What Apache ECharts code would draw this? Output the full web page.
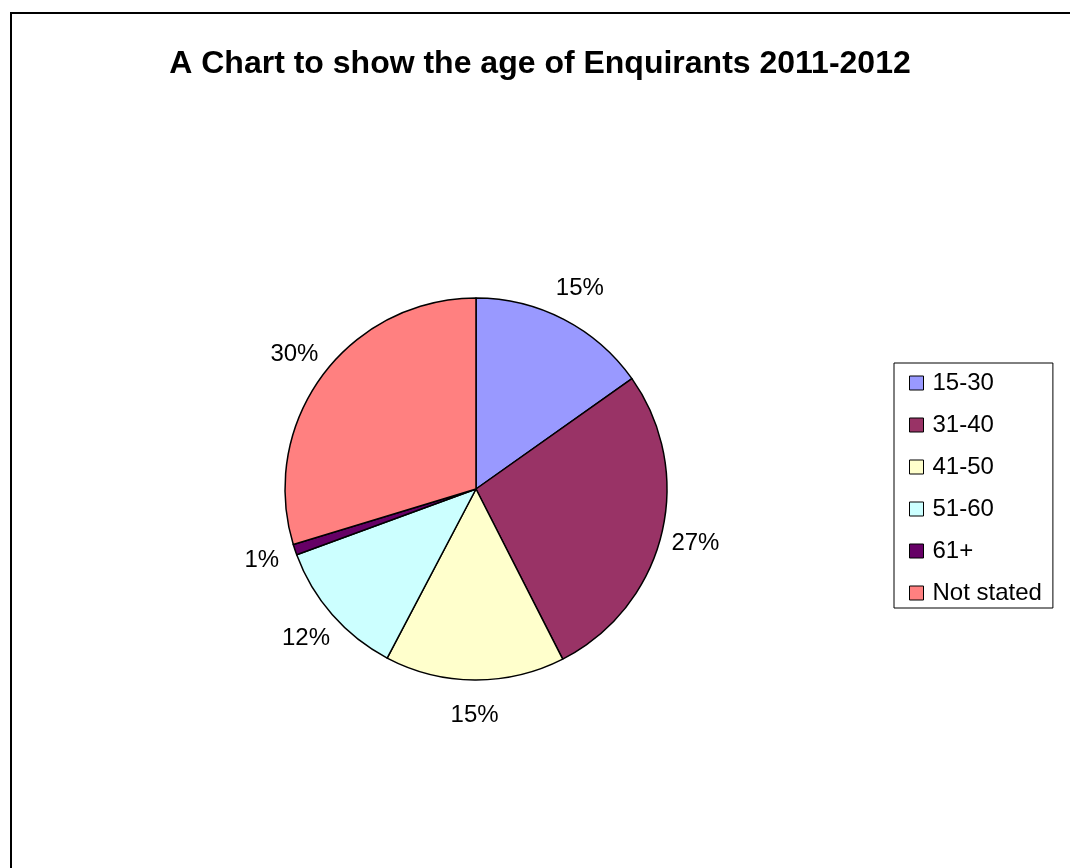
<!DOCTYPE html>
<html><head><meta charset="utf-8">
<script src="https://cdn.jsdelivr.net/npm/echarts@6/dist/echarts.min.js"></script>
<style>html,body{margin:0;padding:0;background:#fff}#c{width:1070px;height:868px}</style>
</head><body><div id="c"></div>
<script>
var categories = ['15-30','31-40','41-50','51-60','61+','Not stated'];
var values = [15.2, 27.3, 15.2, 11.7, 0.9, 29.7];
var colors = ['#9999FF','#993366','#FFFFCC','#CCFFFF','#660066','#FF8080'];
var titleText = 'A Chart to show the age of Enquirants 2011-2012';

var pieCenter = [476, 489];
var pieRadius = 191;
var labelDist = 226;
var total = values.reduce(function(a, b){ return a + b; }, 0);

var chart = echarts.init(document.getElementById('c'));
chart.setOption({
  animation: false,
  backgroundColor: '#fff',
  graphic: [{
    type: 'rect', shape: {x: 11, y: 13, width: 1100, height: 900},
    style: {fill: 'none', stroke: '#000', lineWidth: 2}, silent: true
  }],
  title: {
    text: titleText, left: 535, top: 43, textAlign: 'center',
    textStyle: {fontFamily: 'Liberation Sans, Arial', fontWeight: 'bold', fontSize: 32, color: '#000'}
  },
  legend: {
    orient: 'vertical', left: 894, top: 363,
    padding: [8, 11, 3, 15],
    borderColor: '#000', borderWidth: 1,
    itemWidth: 14, itemHeight: 14, itemGap: 18,
    icon: 'rect',
    itemStyle: {borderColor: '#000', borderWidth: 1},
    textStyle: {fontFamily: 'Liberation Sans, Arial', fontSize: 24, color: '#000', padding: [0,0,0,4]},
    data: categories
  },
  series: [{
    type: 'pie', center: pieCenter, radius: pieRadius,
    startAngle: 90, clockwise: true,
    percentPrecision: 0,
    color: colors,
    itemStyle: {borderColor: '#000', borderWidth: 1.5},
    emphasis: {disabled: true},
    label: {show: true, position: 'outside', formatter: '{d}%',
      fontFamily: 'Liberation Sans, Arial', fontSize: 24, color: '#000'},
    labelLine: {show: false, length: 20, length2: 0},
    labelLayout: function (p) {
      var cum = 0;
      for (var i = 0; i < p.dataIndex; i++) cum += values[i];
      var mid = (cum + values[p.dataIndex] / 2) / total * 2 * Math.PI;
      return {
        x: pieCenter[0] + Math.sin(mid) * labelDist,
        y: pieCenter[1] - Math.cos(mid) * labelDist,
        align: 'center', verticalAlign: 'middle'
      };
    },
    data: categories.map(function(n, i){ return {name: n, value: values[i]}; })
  }]
});
</script></body></html>
